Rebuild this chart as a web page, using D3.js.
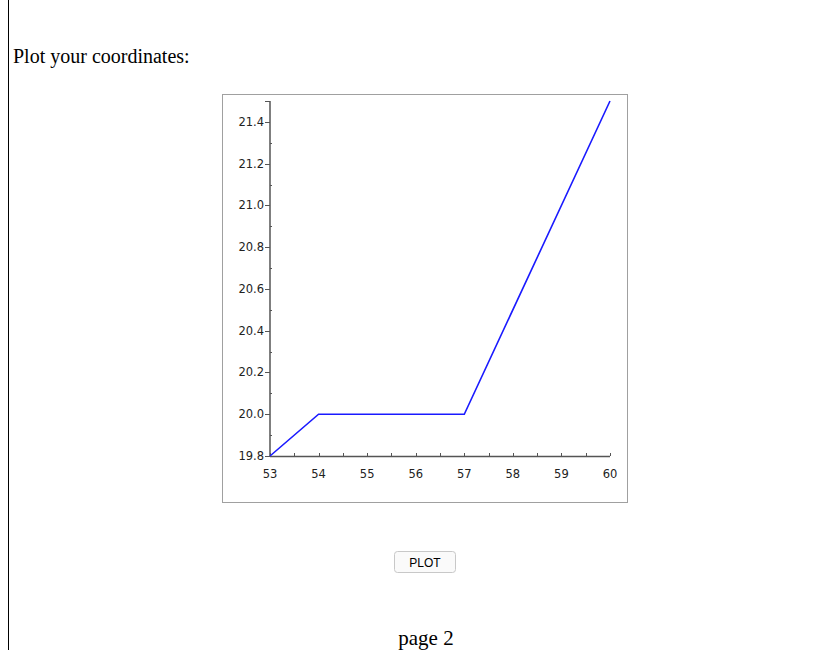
<!DOCTYPE html>
<html>
<head>
<meta charset="utf-8">
<script src="https://cdn.jsdelivr.net/npm/d3@7"></script>
<style>
  html, body { margin: 0; padding: 0; background: #fff; }
  svg { display: block; }
</style>
</head>
<body>
<svg id="chart" width="830" height="650"></svg>
<script>
const xValues = [53, 54, 57, 60];
const yValues = [19.8, 20.0, 20.0, 21.5];
const xTicks = [53, 54, 55, 56, 57, 58, 59, 60];
const yTicks = [19.8, 20.0, 20.2, 20.4, 20.6, 20.8, 21.0, 21.2, 21.4];
const titleText = "Plot your coordinates:";
const buttonText = "PLOT";
const footerText = "page 2";

const svg = d3.select("#chart");

// page left rule
svg.append("line").attr("x1", 8.5).attr("x2", 8.5).attr("y1", 0).attr("y2", 650)
  .attr("stroke", "#000").attr("stroke-width", 1);

svg.append("text").attr("x", 13).attr("y", 63)
  .attr("font-family", "Liberation Serif, Times New Roman, serif").attr("font-size", 20)
  .attr("fill", "#000").text(titleText);

// plot frame
svg.append("rect").attr("x", 222.5).attr("y", 94.5).attr("width", 405).attr("height", 408)
  .attr("fill", "#fff").attr("stroke", "#a0a0a0").attr("stroke-width", 1);

const x = d3.scaleLinear().domain([53, 60]).range([270, 610]);
const y = d3.scaleLinear().domain([19.8, 21.5]).range([456, 101]);

const axisColor = "#555";
const tickFont = "DejaVu Sans, Verdana, sans-serif";
const tickSize = 11.5;

// X axis
const gx = svg.append("g").attr("transform", `translate(0,${y(19.8)})`);
gx.append("line").attr("x1", x(53)).attr("x2", x(60)).attr("y1", 0.5).attr("y2", 0.5)
  .attr("stroke", axisColor).attr("stroke-width", 1.5);
const xMinor = d3.range(53, 60.001, 0.5);
gx.selectAll("line.tk").data(xMinor).join("line").attr("class", "tk")
  .attr("x1", d => Math.round(x(d)) + 0.5).attr("x2", d => Math.round(x(d)) + 0.5)
  .attr("y1", 0).attr("y2", -3).attr("stroke", axisColor).attr("stroke-width", 1);
gx.selectAll("text").data(xTicks).join("text")
  .attr("x", d => x(d)).attr("y", 22)
  .attr("text-anchor", "middle").attr("font-family", tickFont).attr("font-size", tickSize)
  .attr("fill", "#222").text(d => d);

// Y axis
const gy = svg.append("g").attr("transform", `translate(${x(53)},0)`);
gy.append("line").attr("x1", 0).attr("x2", 0).attr("y1", y(19.8)).attr("y2", y(21.5))
  .attr("stroke", axisColor).attr("stroke-width", 1.5);
gy.selectAll("line.mj").data(yTicks.concat([21.5])).join("line").attr("class", "mj")
  .attr("x1", -5).attr("x2", 0)
  .attr("y1", d => Math.round(y(d)) + 0.5).attr("y2", d => Math.round(y(d)) + 0.5)
  .attr("stroke", axisColor).attr("stroke-width", 1);
const yMinor = [19.9, 20.1, 20.3, 20.5, 20.7, 20.9, 21.1, 21.3];
gy.selectAll("line.mn").data(yMinor).join("line").attr("class", "mn")
  .attr("x1", 0).attr("x2", 2)
  .attr("y1", d => Math.round(y(d)) + 0.5).attr("y2", d => Math.round(y(d)) + 0.5)
  .attr("stroke", axisColor).attr("stroke-width", 1);
gy.selectAll("text").data(yTicks).join("text")
  .attr("x", -6).attr("y", d => y(d) + 4)
  .attr("text-anchor", "end").attr("font-family", tickFont).attr("font-size", tickSize)
  .attr("fill", "#222").text(d => d.toFixed(1));

// data line
const pts = xValues.map((v, i) => [v, yValues[i]]);
svg.append("path").datum(pts)
  .attr("d", d3.line().x(d => x(d[0])).y(d => y(d[1])))
  .attr("fill", "none").attr("stroke", "#1a1aff").attr("stroke-width", 1.6);

// button
svg.append("rect").attr("x", 394.5).attr("y", 551.5).attr("width", 61).attr("height", 21)
  .attr("rx", 3).attr("fill", "#fafafa").attr("stroke", "#c8c8c8");
svg.append("text").attr("x", 425).attr("y", 566.5).attr("text-anchor", "middle")
  .attr("font-family", "Liberation Sans, Arial, sans-serif").attr("font-size", 12)
  .attr("fill", "#000").text(buttonText);

svg.append("text").attr("x", 426).attr("y", 645).attr("text-anchor", "middle")
  .attr("font-family", "Liberation Serif, Times New Roman, serif").attr("font-size", 21)
  .attr("fill", "#000").text(footerText);
</script>
</body>
</html>
